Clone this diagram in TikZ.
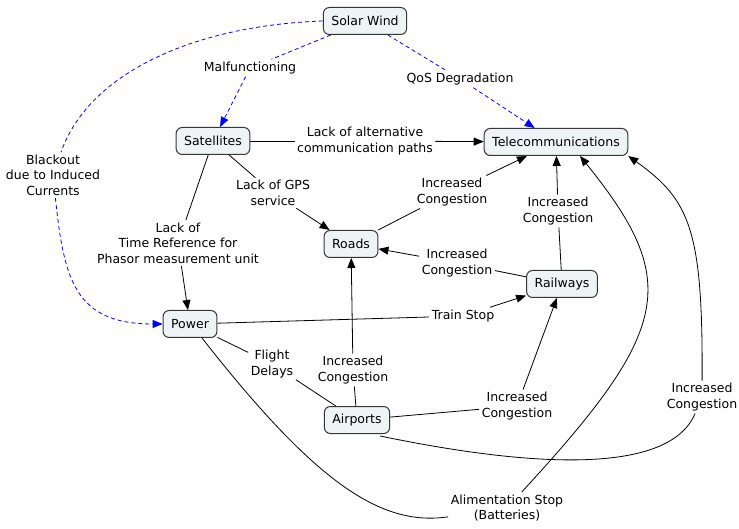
\documentclass[tikz,border=0pt]{standalone}
\usepackage{fontspec}
\setmainfont{DejaVu Sans}
\usetikzlibrary{arrows.meta}
\definecolor{boxfill}{RGB}{238,243,245}
\definecolor{boxline}{RGB}{55,55,55}
\begin{document}
\begin{tikzpicture}[x=1pt,y=-1pt,
  concept/.style={draw=boxline,fill=boxfill,rounded corners=6pt,line width=1pt,
    minimum height=27pt,inner xsep=8pt,inner ysep=3pt,font=\fontsize{12.5}{15.5}\selectfont},
  linklabel/.style={align=center,inner sep=2.5pt,font=\fontsize{12.5}{15.5}\selectfont},
  link/.style={draw=black,line width=0.8pt},
  arrowlink/.style={link,-{Triangle[length=10pt,width=8pt]}},
  hazard/.style={draw=blue,line width=0.8pt,dash pattern=on 4pt off 3pt},
  hazardarrow/.style={hazard,-{Triangle[length=10pt,width=8pt]}}]
\useasboundingbox (0,0) rectangle (739,529);

% concepts
\node[concept] (sw)    at (365,21)  {Solar Wind};
\node[concept] (sat)   at (213,141) {Satellites};
\node[concept] (tel)   at (556,142) {Telecommunications};
\node[concept] (roads) at (351,244) {Roads};
\node[concept] (rail)  at (562,284) {Railways};
\node[concept] (pow)   at (190,324) {Power};
\node[concept] (air)   at (357,420) {Airports};

% linking phrases
\node[linklabel] (lMal)    at (250,68)  {Malfunctioning};
\node[linklabel] (lQoS)    at (460,79)  {QoS Degradation};
\node[linklabel] (lAlt)    at (365,141) {Lack of alternative\\communication paths};
\node[linklabel] (lGPS)    at (273,193) {Lack of GPS\\service};
\node[linklabel] (lTime)   at (178,243) {Lack of\\Time Reference for\\Phasor measurement unit};
\node[linklabel] (lBlk)    at (53,175)  {Blackout\\due to Induced\\Currents};
\node[linklabel] (lRT)     at (452,192) {Increased\\Congestion};
\node[linklabel] (lWT)     at (558,211) {Increased\\Congestion};
\node[linklabel] (lWR)     at (457,263) {Increased\\Congestion};
\node[linklabel] (lTrain)  at (463,316) {Train Stop};
\node[linklabel] (lFlight) at (272,364) {Flight\\Delays};
\node[linklabel] (lAR)     at (353,370) {Increased\\Congestion};
\node[linklabel] (lAW)     at (517,406) {Increased\\Congestion};
\node[linklabel] (lAT)     at (702,397) {Increased\\Congestion};
\node[linklabel] (lAlim)   at (507,508) {Alimentation Stop\\(Batteries)};

% solar wind effects
\draw[hazard] (sw) -- (lMal);
\draw[hazardarrow] (lMal) -- (sat);
\draw[hazard] (sw) -- (lQoS);
\draw[hazardarrow] (lQoS) -- (tel);
\draw[hazard] (sw.west) .. controls (200,25) and (90,70) .. (lBlk);
\draw[hazardarrow] (lBlk) .. controls (64,280) and (75,324) .. (pow.west);

% satellites
\draw[link] (sat) -- (lAlt);
\draw[arrowlink] (lAlt) -- (tel);
\draw[link] (sat) -- (lGPS);
\draw[arrowlink] (lGPS) -- (roads);
\draw[link] (sat) -- (lTime);
\draw[arrowlink] (lTime) -- (pow);

% roads and railways
\draw[link] (roads) -- (lRT);
\draw[arrowlink] (lRT) -- (tel);
\draw[link] (rail) -- (lWT);
\draw[arrowlink] (lWT) -- (tel);
\draw[link] (rail) -- (lWR);
\draw[arrowlink] (lWR) -- (roads);

% power
\draw[link] (pow) -- (lTrain);
\draw[arrowlink] (lTrain) -- (rail);
\draw[link] (pow) -- (lFlight);
\draw[link] (lFlight) -- (air);
\draw[link] (pow.south) ++(12,0) coordinate (powS)
  (powS) .. controls (314,481) and (380,527) .. (lAlim);
\draw[arrowlink] (lAlim) .. controls (672,329) and (681,281) .. (tel.south -| 580,0);

% airports
\draw[link] (air) -- (lAR);
\draw[arrowlink] (lAR) -- (roads);
\draw[link] (air) -- (lAW);
\draw[arrowlink] (lAW) -- (rail);
\draw[link] (air.south east) ++(-10,2) coordinate (airSE)
  (airSE) .. controls (520,465) and (668,478) .. (lAT);
\draw[arrowlink] (lAT) .. controls (703,230) and (690,200) .. (tel.south east);
\end{tikzpicture}
\end{document}
